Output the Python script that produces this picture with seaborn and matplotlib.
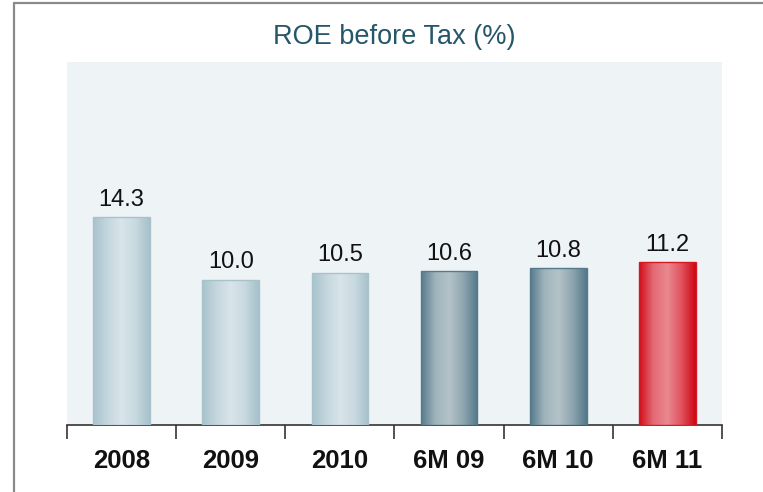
import numpy as np
import pandas as pd
import matplotlib
matplotlib.use("Agg")
import matplotlib.pyplot as plt
import seaborn as sns
from matplotlib.colors import LinearSegmentedColormap
from matplotlib.lines import Line2D

categories = ["2008", "2009", "2010", "6M 09", "6M 10", "6M 11"]
values = [14.3, 10.0, 10.5, 10.6, 10.8, 11.2]
labels = ["14.3", "10.0", "10.5", "10.6", "10.8", "11.2"]
styles = ["light", "light", "light", "dark", "dark", "red"]

sns.set_theme(style="white")
plt.rcParams['font.family'] = ['Liberation Sans', 'DejaVu Sans']

df = pd.DataFrame({"cat": categories, "val": values})

fig = plt.figure(figsize=(7.63, 4.92), dpi=100)
ax = fig.add_axes([67/763, 1-425/492, (722-67)/763, (425-62)/492])
ax.set_facecolor("#eef3f6")

sns.barplot(data=df, x="cat", y="val", ax=ax, width=0.52, color="#c0d4dc",
            saturation=1, edgecolor="none")

grads = {
    "light": ["#a8c2cc", "#c4d6dd", "#d8e5ea", "#c8d9e0", "#a6c0cb"],
    "dark": ["#557a8b", "#9fb3bb", "#b4c3c9", "#8ea5af", "#52788a"],
    "red": ["#cf0d19", "#e46a74", "#ea8890", "#e0525d", "#cc0510"],
}
edges = {"light": "#a8c2cc", "dark": "#557a8b", "red": "#d51822"}

ax.set_ylim(0, 25)
ax.set_xlim(-0.5, 5.5)

for patch, st, lab in zip(ax.patches, styles, labels):
    x0, y0 = patch.get_x(), patch.get_y()
    w, h = patch.get_width(), patch.get_height()
    cmap = LinearSegmentedColormap.from_list(st, grads[st])
    grad = np.linspace(0, 1, 256).reshape(1, -1)
    im = ax.imshow(grad, cmap=cmap, aspect="auto", extent=[x0, x0 + w, y0, y0 + h],
                   zorder=3, interpolation="bicubic")
    im.set_clip_path(patch)
    patch.set_facecolor("none")
    patch.set_edgecolor(edges[st])
    patch.set_linewidth(1.0)
    patch.set_zorder(4)
    ax.text(x0 + w / 2, y0 + h + 0.45, lab, ha="center", va="bottom",
            fontsize=17, color="#111111", zorder=5)

ax.set_ylim(0, 25)
ax.set_xlim(-0.5, 5.5)

for s in ["top", "right", "left"]:
    ax.spines[s].set_visible(False)
ax.spines["bottom"].set_color("#333333")
ax.spines["bottom"].set_linewidth(1.2)
ax.set_yticks([])
ax.set_xlabel("")
ax.set_ylabel("")
ax.set_xticks(range(len(categories)))
ax.set_xticklabels(categories, fontsize=18.5, fontweight="bold", color="#111111")
ax.tick_params(axis="x", which="major", length=0, pad=17)
ax.set_xticks(np.arange(-0.5, 6.0, 1.0), minor=True)
ax.tick_params(axis="x", which="minor", length=10, width=1.2, color="#333333",
               direction="out", bottom=True)

fig.text(0.5 * (67 + 722) / 763, 1 - 37 / 492, "ROE before Tax (%)", ha="center",
         va="center", fontsize=19.5, color="#25566a")

fig.add_artist(Line2D([14/763, 14/763], [0, 1 - 3/492], transform=fig.transFigure,
                      color="#8a8a8a", linewidth=1.6))
fig.add_artist(Line2D([14/763, 1], [1 - 3/492, 1 - 3/492], transform=fig.transFigure,
                      color="#8a8a8a", linewidth=1.6))

fig.savefig("out.png", dpi=100)
